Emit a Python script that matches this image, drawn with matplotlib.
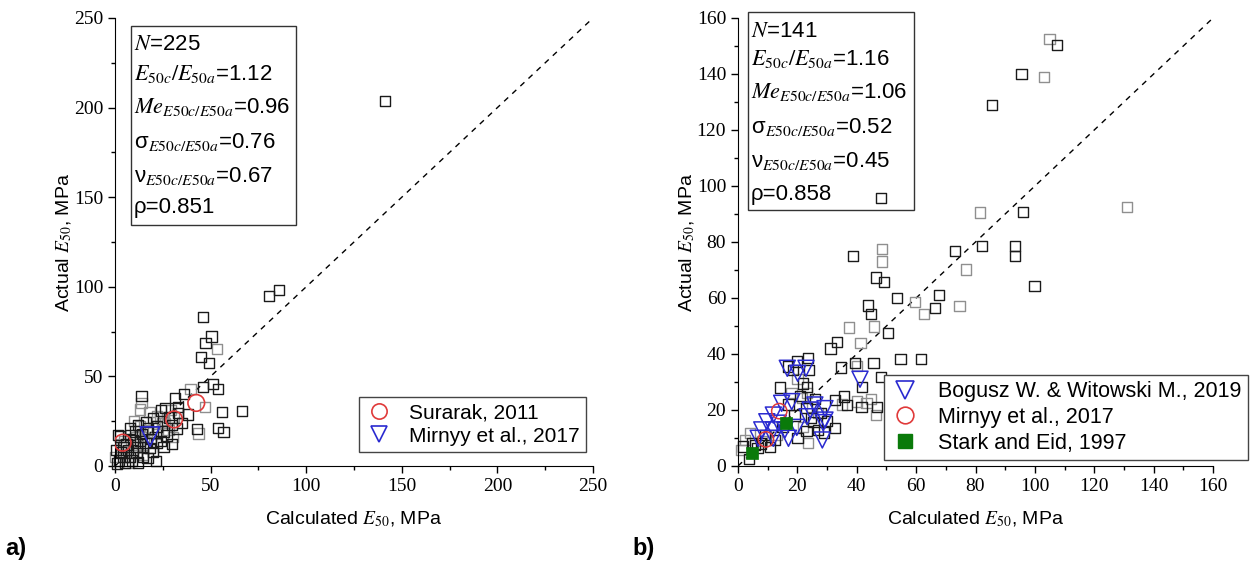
import numpy as np
import matplotlib
matplotlib.use('Agg')
from matplotlib import pyplot as plt
from matplotlib.lines import Line2D
from matplotlib.patches import Rectangle

plt.rcParams['font.family'] = 'Liberation Sans'
plt.rcParams['mathtext.fontset'] = 'stix'

# ---- panel a) data (calculated, actual) ----
a_black_x = [141.2, 80.4, 85.8, 46.2, 50.4, 47.3, 45.1, 49.3, 51.4, 46.2, 53.7, 55.8, 66.4, 42.7, 53.9, 56.8,
             36.1, 31.5, 13.8, 33.1, 38.2, 26.3, 20.0, 16.2, 32.3, 29.8, 25.3, 21.4, 14.8, 11.3, 5.2, 0.9,
             2.6, 7.8, 10.5, 11.3, 6.9, 14.8, 18.2, 21.8, 25.3, 17.4, 9.6, 4.4, 1.7, 4.4, 7.8, 28.3,
             12.0, 17.0, 9.0, 3.0, 6.0, 13.0, 19.0, 24.0, 27.0, 35.0, 30.0, 22.0, 14.0, 8.0, 2.0, 0.5,
             20.0, 16.0, 33.0, 24.0, 12.0]
a_black_y = [203.7, 94.7, 98.4, 83.0, 72.2, 68.5, 61.0, 57.6, 45.6, 43.9, 42.8, 30.3, 30.7, 20.8, 21.2, 19.0,
             40.0, 38.1, 39.0, 29.4, 28.8, 32.2, 26.6, 24.7, 21.0, 12.3, 10.8, 2.8, 5.2, 7.1, 1.8, 1.4,
             16.4, 17.5, 19.3, 10.8, 9.0, 10.8, 10.0, 12.7, 19.3, 21.0, 14.5, 10.8, 17.5, 5.2, 5.2, 27.0,
             2.0, 4.5, 3.0, 8.0, 12.0, 14.0, 15.0, 14.0, 17.0, 24.0, 23.0, 22.0, 18.0, 21.0, 3.0, 9.0,
             8.0, 13.0, 33.0, 31.0, 23.0]
a_gray_x = [53.5, 43.6, 13.8, 13.1, 29.3, 23.5, 24.4, 13.1, 21.8, 30.5, 0.2, 14.8, 46.9, 18.0, 10.0,
            26.0, 20.0, 5.0, 9.0, 15.0, 28.0, 12.0, 22.0, 17.0, 3.0, 7.0, 25.0, 31.0, 11.0, 39.5]
a_gray_y = [65.1, 18.2, 35.3, 31.6, 31.2, 27.5, 23.8, 22.3, 18.0, 16.0, 5.2, 6.0, 33.1, 30.0, 25.0,
            24.0, 19.0, 14.0, 8.0, 16.0, 20.0, 12.0, 28.0, 20.0, 12.0, 2.0, 25.0, 27.0, 16.0, 43.0]
a_surarak_x = [4.0, 30.9, 42.5]
a_surarak_y = [13.0, 26.0, 35.2]
a_mirnyy_x = [18.3]
a_mirnyy_y = [16.4]
a_stats = [r'$N$=225', r'$E_{50c}/E_{50a}$=1.12', r'$Me_{E50c/E50a}$=0.96',
           r'σ$_{E50c/E50a}$=0.76', r'ν$_{E50c/E50a}$=0.67', r'ρ=0.851']

# ---- panel b) data ----
b_black_x = [107.4, 95.5, 85.5, 48.2, 95.9, 73.2, 82.3, 93.2, 93.2, 99.9, 67.6, 66.4, 38.8, 46.4, 49.3,
             53.6, 43.7, 44.7, 50.6, 33.4, 31.2, 34.6, 39.5, 45.6, 48.1, 54.7, 61.7, 41.7, 32.7, 35.7,
             36.6, 41.6, 46.7, 32.7, 14.1, 16.9, 19.8, 23.7, 21.8, 18.6, 24.0, 23.3, 23.1, 24.6, 25.4,
             23.1, 27.0, 12.5, 10.8, 3.8, 1.8, 4.7, 5.7, 6.6, 7.7, 21.0, 28.0, 19.0, 15.0, 30.0,
             20.0, 9.0, 26.0, 17.0, 29.0]
b_black_y = [150.4, 140.1, 128.8, 95.7, 90.7, 76.8, 78.6, 78.6, 74.9, 64.3, 61.1, 56.3, 75.1, 67.3, 65.6,
             60.0, 57.3, 54.2, 47.4, 44.2, 42.0, 35.2, 36.9, 36.7, 31.8, 38.2, 38.3, 28.3, 23.6, 24.8,
             21.8, 21.2, 21.2, 13.5, 28.0, 35.5, 37.3, 38.5, 29.5, 34.3, 34.4, 28.3, 20.8, 17.2, 15.6,
             12.5, 12.9, 9.3, 6.9, 2.4, 7.0, 8.1, 7.6, 6.4, 8.0, 25.0, 19.0, 18.0, 14.0, 16.0,
             10.0, 11.0, 24.0, 22.0, 12.0]
b_gray_x = [104.9, 103.0, 81.6, 131.1, 48.4, 48.4, 59.6, 62.6, 74.6, 76.7, 45.8, 37.4, 41.3, 40.0, 40.0,
            43.3, 44.9, 46.5, 23.7, 23.3, 21.5, 1.2, 2.4, 4.0, 27.0, 22.0, 35.0, 18.0, 13.0, 20.0,
            25.0, 8.0]
b_gray_y = [152.4, 139.0, 90.5, 92.5, 77.4, 73.0, 58.7, 54.3, 57.1, 70.2, 49.8, 49.5, 43.8, 35.7, 23.0,
            22.4, 23.8, 18.2, 8.1, 26.0, 24.2, 5.7, 9.3, 11.7, 19.0, 14.0, 22.0, 26.0, 11.0, 31.0,
            21.0, 9.0]
b_bogusz_x = [16.6, 20.1, 22.9, 41.1, 14.7, 18.1, 25.9, 29.3, 24.3, 23.3, 29.3, 9.7, 13.6, 8.0, 11.9,
              15.8, 19.8, 17.0, 11.9, 6.8, 28.4, 28.7, 11.9]
b_bogusz_y = [34.9, 33.1, 34.9, 31.0, 22.4, 23.0, 21.8, 20.5, 20.0, 17.6, 16.4, 15.8, 15.3, 12.9, 12.9,
              12.9, 13.8, 9.9, 9.9, 9.9, 9.3, 15.5, 18.2]
b_mirnyy_x = [13.9, 9.4]
b_mirnyy_y = [19.6, 9.5]
b_stark_x = [16.2, 4.6]
b_stark_y = [15.5, 4.5]
b_stats = [r'$N$=141', r'$E_{50c}/E_{50a}$=1.16', r'$Me_{E50c/E50a}$=1.06',
           r'σ$_{E50c/E50a}$=0.52', r'ν$_{E50c/E50a}$=0.45', r'ρ=0.858']

RED = '#e03a3a'
BLUE = '#2a2ad0'
GREEN = '#0a7a0a'
GRAY = '#8f8f8f'
BLACK = '#1a1a1a'
W, H = 1257, 562
SQ = 7.4


def style_axes(ax, lim, major, minor):
    ax.set_xlim(0, lim)
    ax.set_ylim(0, lim)
    ax.set_xticks(np.arange(0, lim + 1, major))
    ax.set_yticks(np.arange(0, lim + 1, major))
    ax.set_xticks(np.arange(0, lim + 1, minor), minor=True)
    ax.set_yticks(np.arange(0, lim + 1, minor), minor=True)
    ax.tick_params(which='major', direction='out', length=5, width=1, labelsize=14,
                   labelfontfamily='Liberation Serif')
    ax.tick_params(which='minor', direction='out', length=3, width=1)
    ax.spines['top'].set_visible(False)
    ax.spines['right'].set_visible(False)
    ax.plot([0, lim], [0, lim], color='black', lw=1, linestyle=(0, (4, 4)), zorder=1)
    ax.set_xlabel('Calculated $E_{50}$, MPa', fontsize=14, labelpad=11)
    ax.set_ylabel('Actual $E_{50}$, MPa', fontsize=14, labelpad=0)


def stats_box(fig, lines, x0, x1, ytop, ybot, baselines):
    fig.patches.append(Rectangle((x0 / W, 1 - ybot / H), (x1 - x0) / W, (ybot - ytop) / H,
                                 transform=fig.transFigure, fill=False, edgecolor='#333333', lw=1))
    for txt, yb in zip(lines, baselines):
        fig.text((x0 + 3) / W, 1 - yb / H, txt, fontsize=16, va='baseline', ha='left')


fig = plt.figure(figsize=(12.57, 5.62), dpi=100)

# panel a
ax1 = fig.add_axes([115 / W, 1 - 466 / H, 478 / W, 448 / H])
style_axes(ax1, 250, 50, 25)
ax1.scatter(a_gray_x, a_gray_y, marker='s', s=SQ ** 2, facecolors='none', edgecolors=GRAY,
            linewidths=1, clip_on=False, zorder=2)
ax1.scatter(a_black_x, a_black_y, marker='s', s=SQ ** 2, facecolors='none', edgecolors=BLACK,
            linewidths=1, clip_on=False, zorder=2)
ax1.scatter(a_surarak_x, a_surarak_y, marker='o', s=12 ** 2, facecolors='none', edgecolors=RED,
            linewidths=1.2, zorder=3)
ax1.scatter(a_mirnyy_x, a_mirnyy_y, marker='v', s=14 ** 2, facecolors='none', edgecolors=BLUE,
            linewidths=1.2, zorder=3)
h1 = [Line2D([], [], ls='none', marker='o', ms=11, mfc='none', mec=RED, mew=1.2),
      Line2D([], [], ls='none', marker='v', ms=12, mfc='none', mec=BLUE, mew=1.2)]
leg1 = fig.legend(h1, ['Surarak, 2011', 'Mirnyy et al., 2017'], loc='lower right',
                  bbox_to_anchor=(586 / W, 1 - 452 / H), fontsize=15, frameon=True, fancybox=False,
                  edgecolor='#444444', framealpha=1, borderpad=0.3, labelspacing=0.2,
                  handlelength=1.3, handletextpad=0.8, borderaxespad=0)
leg1.get_frame().set_linewidth(1)
stats_box(fig, a_stats, 131, 296, 26, 225, [50, 80, 113, 148, 182, 213])

# panel b
ax2 = fig.add_axes([738 / W, 1 - 466 / H, 475 / W, 448 / H])
style_axes(ax2, 160, 20, 10)
ax2.scatter(b_gray_x, b_gray_y, marker='s', s=SQ ** 2, facecolors='none', edgecolors=GRAY,
            linewidths=1, clip_on=False, zorder=2)
ax2.scatter(b_black_x, b_black_y, marker='s', s=SQ ** 2, facecolors='none', edgecolors=BLACK,
            linewidths=1, clip_on=False, zorder=2)
ax2.scatter(b_bogusz_x, b_bogusz_y, marker='v', s=11.5 ** 2, facecolors='none', edgecolors=BLUE,
            linewidths=1.1, zorder=3)
ax2.scatter(b_mirnyy_x, b_mirnyy_y, marker='o', s=11 ** 2, facecolors='none', edgecolors=RED,
            linewidths=1.1, zorder=3)
ax2.scatter(b_stark_x, b_stark_y, marker='s', s=9 ** 2, facecolors=GREEN, edgecolors=GREEN,
            linewidths=0.5, zorder=4)
h2 = [Line2D([], [], ls='none', marker='v', ms=13, mfc='none', mec=BLUE, mew=1.2),
      Line2D([], [], ls='none', marker='o', ms=12, mfc='none', mec=RED, mew=1.2),
      Line2D([], [], ls='none', marker='s', ms=10, mfc=GREEN, mec=GREEN)]
leg2 = fig.legend(h2, ['Bogusz W. & Witowski M., 2019', 'Mirnyy et al., 2017', 'Stark and Eid, 1997'],
                  loc='lower right', bbox_to_anchor=(1248 / W, 1 - 460 / H), fontsize=15.5, frameon=True,
                  fancybox=False, edgecolor='#444444', framealpha=1, borderpad=0.3, labelspacing=0.22,
                  handlelength=1.3, handletextpad=0.9, borderaxespad=0)
leg2.get_frame().set_linewidth(1)
stats_box(fig, b_stats, 748, 914, 12, 210, [37, 65, 98, 133, 167, 200])

fig.text(5 / W, 1 - 548 / H, 'a)', fontsize=17, fontweight='bold', va='center', ha='left')
fig.text(632 / W, 1 - 548 / H, 'b)', fontsize=17, fontweight='bold', va='center', ha='left')

fig.savefig('out.png', dpi=100)
